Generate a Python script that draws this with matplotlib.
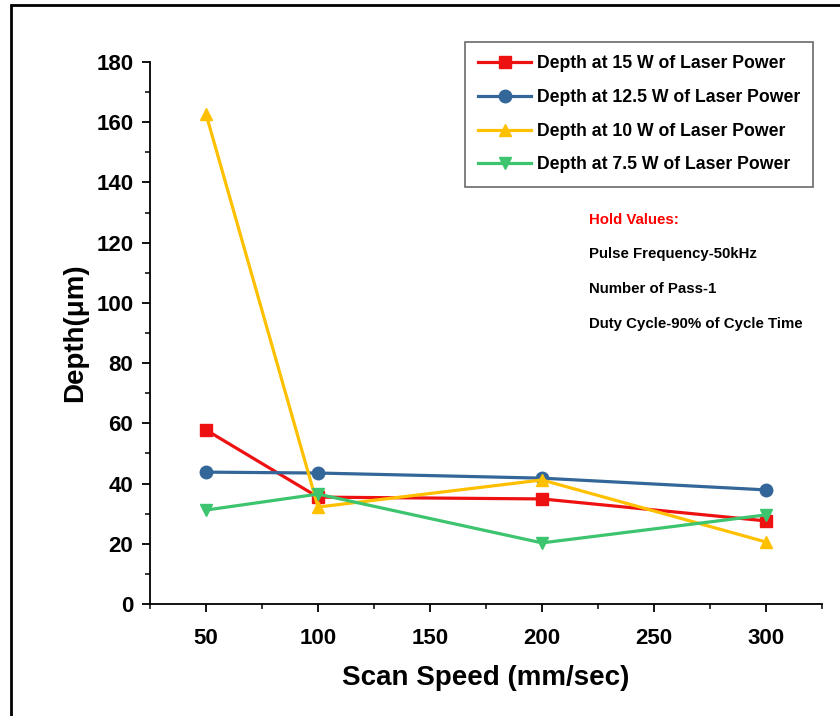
import matplotlib.pyplot as plt
from matplotlib.patches import Rectangle
from matplotlib.ticker import MultipleLocator

plt.rcParams['font.family'] = ['Liberation Sans', 'DejaVu Sans']
plt.rcParams['font.weight'] = 'bold'

# Scan speed (mm/sec) and depth (um) at each laser power
speed = [50, 100, 200, 300]
depth_15w = [57.8, 35.5, 34.9, 27.6]
depth_12_5w = [43.8, 43.5, 41.8, 37.9]
depth_10w = [162.7, 32.2, 41.2, 20.6]
depth_7_5w = [31.2, 36.5, 20.3, 29.6]

fig = plt.figure(figsize=(8.4, 7.16), dpi=100)
ax = fig.add_axes([0.1786, 0.1564, 0.80, 0.757])

# outer frame of the picture
fig.patches.append(Rectangle((0.013, -0.01), 1.0, 1.003, transform=fig.transFigure,
                             fill=False, edgecolor='black', linewidth=2))

ax.plot(speed, depth_15w, color='#ee1111', marker='s', markersize=8, lw=2.3,
        label='Depth at 15 W of Laser Power')
ax.plot(speed, depth_12_5w, color='#336699', marker='o', markersize=9, lw=2.3,
        label='Depth at 12.5 W of Laser Power')
ax.plot(speed, depth_10w, color='#ffc000', marker='^', markersize=9, lw=2.3,
        label='Depth at 10 W of Laser Power')
ax.plot(speed, depth_7_5w, color='#3cc46e', marker='v', markersize=9, lw=2.3,
        label='Depth at 7.5 W of Laser Power')

ax.set_xlim(25, 325)
ax.set_ylim(0, 180)
ax.xaxis.set_major_locator(MultipleLocator(50))
ax.xaxis.set_minor_locator(MultipleLocator(25))
ax.yaxis.set_major_locator(MultipleLocator(20))
ax.yaxis.set_minor_locator(MultipleLocator(10))
ax.tick_params(which='major', direction='out', length=6, width=1.3, labelsize=16)
ax.tick_params(axis='x', which='major', pad=11)
ax.tick_params(axis='y', which='major', pad=6)
ax.tick_params(which='minor', direction='out', length=3.5, width=1.1)
for lab in ax.get_xticklabels() + ax.get_yticklabels():
    lab.set_fontweight('bold')

ax.spines['top'].set_visible(False)
ax.spines['right'].set_visible(False)
ax.spines['left'].set_linewidth(1.3)
ax.spines['bottom'].set_linewidth(1.3)

ax.set_xlabel('Scan Speed (mm/sec)', fontsize=20, fontweight='bold', labelpad=12)
ax.set_ylabel('Depth(μm)', fontsize=20, fontweight='bold', labelpad=6)

leg = ax.legend(loc='upper right', bbox_to_anchor=(0.9866, 1.037), borderaxespad=0,
                fontsize=12.7, frameon=True, fancybox=False, edgecolor='#444444',
                handlelength=3.0, handletextpad=0.3, labelspacing=0.95,
                borderpad=0.75)
leg.get_frame().set_linewidth(1.2)
for t in leg.get_texts():
    t.set_fontweight('bold')

ax.text(0.653, 0.7085, 'Hold Values:', transform=ax.transAxes, color='red',
        fontsize=10.8, fontweight='bold', va='center')
notes = ['Pulse Frequency-50kHz', 'Number of Pass-1', 'Duty Cycle-90% of Cycle Time']
notes_y = [0.6458, 0.5812, 0.5166]
for s, y in zip(notes, notes_y):
    ax.text(0.653, y, s, transform=ax.transAxes, color='black',
            fontsize=10.8, fontweight='bold', va='center')

fig.savefig('out.png', dpi=100)
